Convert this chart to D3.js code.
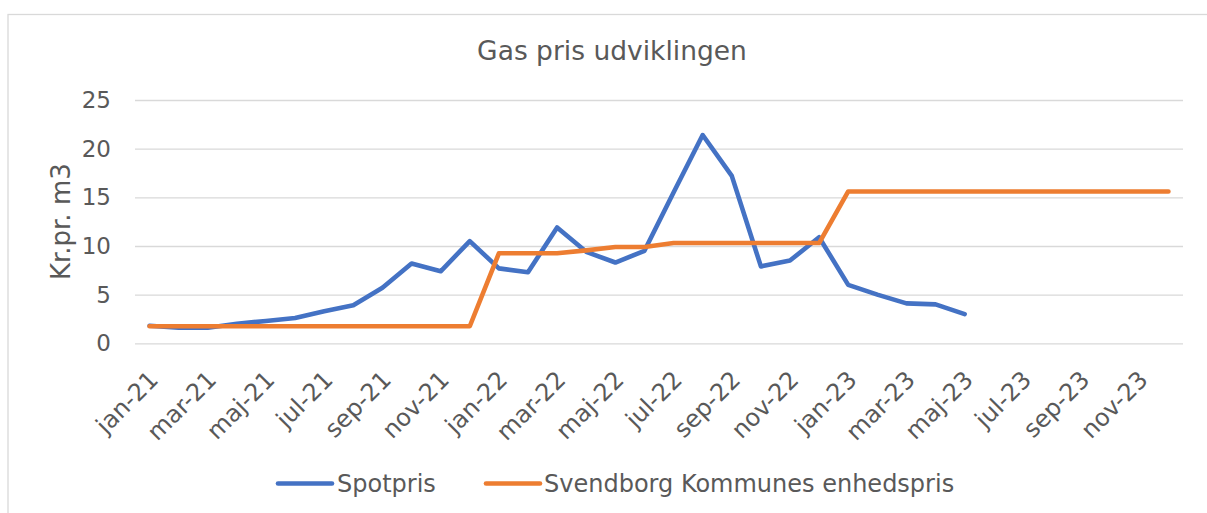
<!DOCTYPE html>
<html>
<head>
<meta charset="utf-8">
<script src="https://cdn.jsdelivr.net/npm/d3@7"></script>
<style>
  body { margin: 0; background: #fff; }
  text { font-family: "DejaVu Sans", Verdana, sans-serif; fill: #595959; }
</style>
</head>
<body>
<div id="chart_container"></div>
<script>
// month labels jan-21 .. dec-23
const months = ["jan-21","feb-21","mar-21","apr-21","maj-21","jun-21","jul-21","aug-21","sep-21","okt-21","nov-21","dec-21",
                "jan-22","feb-22","mar-22","apr-22","maj-22","jun-22","jul-22","aug-22","sep-22","okt-22","nov-22","dec-22",
                "jan-23","feb-23","mar-23","apr-23","maj-23","jun-23","jul-23","aug-23","sep-23","okt-23","nov-23","dec-23"];

// spot price, only known until maj-23
const spotpris = [1.8,1.6,1.6,2.0,2.3,2.6,3.3,3.9,5.7,8.2,7.4,10.5,
                  7.7,7.3,11.9,9.4,8.3,9.5,15.5,21.4,17.2,7.9,8.5,10.9,
                  6.0,5.0,4.1,4.0,3.0];

// Svendborg Kommunes unit price
const enhedspris = [1.75,1.75,1.75,1.75,1.75,1.75,1.75,1.75,1.75,1.75,1.75,1.75,
                    9.25,9.25,9.25,9.55,9.9,9.9,10.3,10.3,10.3,10.3,10.3,10.3,
                    15.6,15.6,15.6,15.6,15.6,15.6,15.6,15.6,15.6,15.6,15.6,15.6];

const yTicks = [0,5,10,15,20,25];
const seriesNames = ["Spotpris", "Svendborg Kommunes enhedspris"];
const colors = ["#4472C4", "#ED7D31"];

const w = 1207, h = 513;
const plot = {left: 135, right: 1183, top: 100, bottom: 343.3};

const svg = d3.select("#chart_container").append("svg")
    .attr("width", w)
    .attr("height", h);

// chart border
svg.append("rect")
    .attr("x", 8).attr("y", 14.5)
    .attr("width", w + 10).attr("height", h + 10)
    .attr("fill", "none")
    .attr("stroke", "#d9d9d9")
    .attr("stroke-width", 1.3);

// title
svg.append("text")
    .attr("x", 612).attr("y", 60)
    .attr("text-anchor", "middle")
    .style("font-size", "26.5px")
    .text("Gas pris udviklingen");

const xScale = d3.scaleBand()
    .domain(months)
    .range([plot.left, plot.right]);

const yScale = d3.scaleLinear()
    .domain([0, 25])
    .range([plot.bottom, plot.top]);

// gridlines + y labels
const yAxis = d3.axisLeft(yScale)
    .tickValues(yTicks)
    .tickSize(-(plot.right - plot.left))
    .tickPadding(24);

const gy = svg.append("g")
    .attr("transform", "translate(" + plot.left + ",0)")
    .call(yAxis);
gy.select(".domain").remove();
gy.selectAll("line").attr("stroke", "#d9d9d9").attr("stroke-width", 1.3);
gy.selectAll("text")
    .style("font-size", "23px")
    .style("font-family", "'DejaVu Sans', Verdana, sans-serif")
    .attr("fill", "#595959");

// y axis title
svg.append("text")
    .attr("transform", "translate(70," + ((plot.top + plot.bottom) / 2) + ") rotate(-90)")
    .attr("text-anchor", "middle")
    .style("font-size", "26px")
    .text("Kr.pr. m3");

// x labels, every second month
const xAxis = d3.axisBottom(xScale)
    .tickValues(months.filter((d, i) => i % 2 === 0))
    .tickSize(0)
    .tickPadding(0);

const gx = svg.append("g")
    .attr("transform", "translate(0," + plot.bottom + ")")
    .call(xAxis);
gx.select(".domain").remove();
gx.selectAll("text")
    .style("font-size", "24px")
    .style("font-family", "'DejaVu Sans', Verdana, sans-serif")
    .attr("fill", "#595959")
    .attr("text-anchor", "end")
    .attr("dy", null)
    .attr("y", 0)
    .attr("transform", "translate(10,38) rotate(-45)");

// lines
const line = d3.line()
    .defined(d => d != null)
    .x((d, i) => xScale(months[i]) + xScale.bandwidth() / 2)
    .y(d => yScale(d));

[spotpris, enhedspris].forEach((s, k) => {
    svg.append("path")
        .datum(s)
        .attr("fill", "none")
        .attr("stroke", colors[k])
        .attr("stroke-width", 4.6)
        .attr("stroke-linejoin", "round")
        .attr("stroke-linecap", "round")
        .attr("d", line);
});

// legend
const legendPos = [{x: 278, tx: 337}, {x: 486, tx: 544}];
const legend = svg.append("g");
seriesNames.forEach((name, k) => {
    legend.append("line")
        .attr("x1", legendPos[k].x).attr("x2", legendPos[k].x + 54)
        .attr("y1", 483.5).attr("y2", 483.5)
        .attr("stroke", colors[k])
        .attr("stroke-width", 4.6)
        .attr("stroke-linecap", "round");
    legend.append("text")
        .attr("x", legendPos[k].tx).attr("y", 483.5)
        .attr("dy", "0.36em")
        .style("font-size", "24px")
        .text(name);
});
</script>
</body>
</html>
